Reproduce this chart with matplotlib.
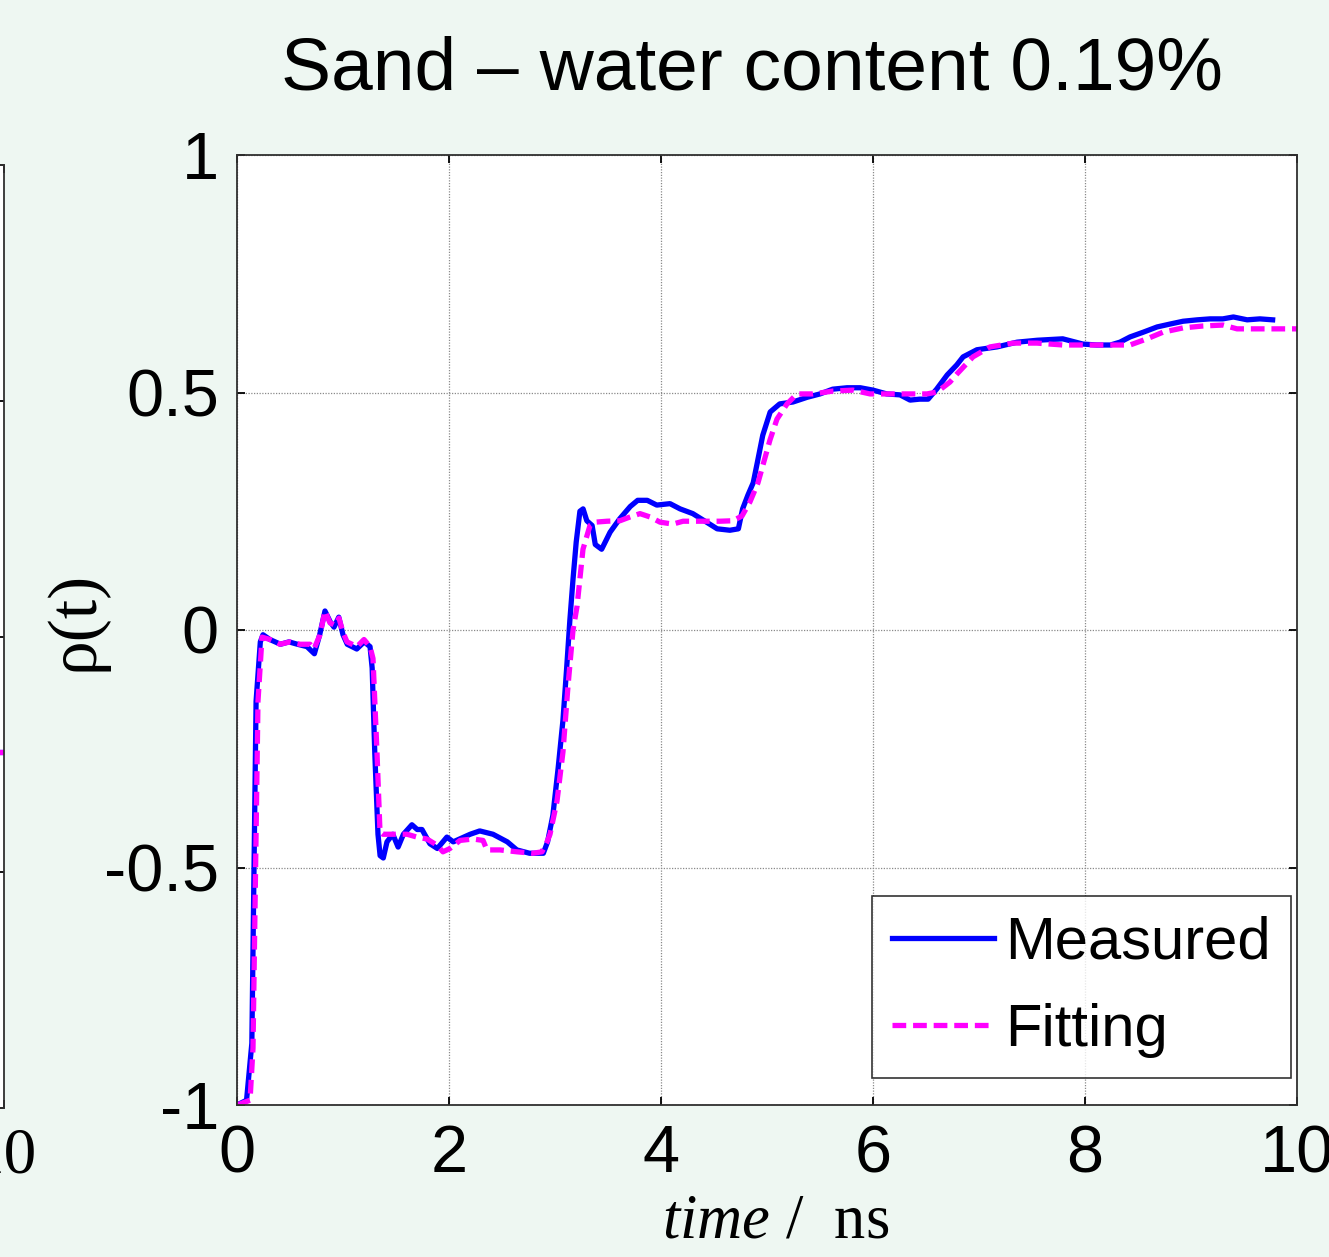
import matplotlib
matplotlib.use("Agg")
import matplotlib.pyplot as plt

# ---------------- data ----------------
t_meas = [0.0, 0.09, 0.14, 0.18, 0.22, 0.245, 0.31, 0.41, 0.49, 0.57,
          0.66, 0.73, 0.78, 0.83, 0.88, 0.915, 0.96, 1.0, 1.04, 1.13,
          1.2, 1.255, 1.275, 1.3, 1.33, 1.35, 1.38, 1.415, 1.47, 1.52,
          1.57, 1.65, 1.7, 1.745, 1.82, 1.89, 1.98, 2.04, 2.2, 2.29,
          2.415, 2.55, 2.64, 2.76, 2.89, 2.93, 2.98, 3.03, 3.075, 3.11,
          3.14, 3.17, 3.2, 3.235, 3.265, 3.3, 3.35, 3.38, 3.44, 3.52,
          3.61, 3.71, 3.78, 3.87, 3.96, 4.085, 4.18, 4.3, 4.43, 4.53,
          4.65, 4.73, 4.77, 4.82, 4.87, 4.91, 4.96, 5.03, 5.12, 5.245,
          5.38, 5.5, 5.62, 5.755, 5.88, 6.0, 6.13, 6.255, 6.35, 6.44,
          6.52, 6.6, 6.7, 6.79, 6.85, 6.98, 7.17, 7.36, 7.55, 7.79,
          7.98, 8.11, 8.24, 8.33, 8.425, 8.55, 8.68, 8.8, 8.925, 9.06,
          9.18, 9.3, 9.4, 9.53, 9.65, 9.77]
rho_meas = [-1.0, -0.99, -0.87, -0.15, -0.025, -0.01, -0.02, -0.03, -0.025, -0.03,
            -0.035, -0.05, -0.01, 0.04, 0.017, 0.006, 0.027, -0.01, -0.03, -0.04,
            -0.025, -0.035, -0.08, -0.26, -0.43, -0.475, -0.48, -0.446, -0.43, -0.457,
            -0.43, -0.41, -0.42, -0.42, -0.45, -0.46, -0.436, -0.446, -0.43, -0.423,
            -0.43, -0.446, -0.463, -0.47, -0.47, -0.446, -0.39, -0.29, -0.19, -0.08,
            0.02, 0.107, 0.185, 0.25, 0.255, 0.23, 0.22, 0.18, 0.17, 0.206,
            0.234, 0.26, 0.273, 0.273, 0.263, 0.266, 0.255, 0.245, 0.227, 0.213,
            0.21, 0.213, 0.255, 0.284, 0.31, 0.354, 0.41, 0.459, 0.476, 0.48,
            0.49, 0.497, 0.507, 0.51, 0.51, 0.505, 0.497, 0.495, 0.484, 0.486,
            0.486, 0.507, 0.537, 0.558, 0.575, 0.59, 0.596, 0.606, 0.61, 0.613,
            0.602, 0.6, 0.6, 0.606, 0.617, 0.627, 0.638, 0.644, 0.65, 0.653,
            0.655, 0.655, 0.659, 0.653, 0.655, 0.653]

t_fit = [0.0, 0.123, 0.151, 0.198, 0.236, 0.311, 0.406, 0.5, 0.594, 0.689,
         0.726, 0.783, 0.83, 0.877, 0.925, 0.962, 1.0, 1.038, 1.132, 1.198,
         1.255, 1.283, 1.321, 1.349, 1.377, 1.472, 1.604, 1.698, 1.792, 1.887,
         1.943, 2.009, 2.104, 2.226, 2.321, 2.358, 2.481, 2.642, 2.792, 2.877,
         2.925, 2.953, 3.019, 3.075, 3.123, 3.17, 3.208, 3.264, 3.33, 3.377,
         3.491, 3.613, 3.708, 3.802, 3.896, 3.991, 4.113, 4.208, 4.368, 4.557,
         4.679, 4.764, 4.84, 4.915, 5.028, 5.094, 5.189, 5.283, 5.434, 5.623,
         5.811, 5.972, 6.132, 6.321, 6.509, 6.604, 6.726, 6.792, 6.943, 7.104,
         7.321, 7.547, 7.792, 7.981, 8.236, 8.425, 8.585, 8.736, 8.925, 9.113,
         9.302, 9.434, 9.557, 10.0]
rho_fit = [-1.0, -0.99, -0.88, -0.15, -0.015, -0.02, -0.03, -0.025, -0.03, -0.03,
           -0.04, -0.01, 0.04, 0.015, 0.01, 0.025, -0.005, -0.025, -0.035, -0.02,
           -0.035, -0.06, -0.26, -0.425, -0.43, -0.43, -0.43, -0.436, -0.44, -0.453,
           -0.467, -0.46, -0.443, -0.44, -0.443, -0.463, -0.463, -0.467, -0.47, -0.467,
           -0.446, -0.43, -0.36, -0.257, -0.117, 0.0, 0.05, 0.17, 0.22, 0.227,
           0.229, 0.23, 0.238, 0.245, 0.238, 0.227, 0.223, 0.229, 0.229, 0.229,
           0.23, 0.24, 0.27, 0.31, 0.4, 0.444, 0.476, 0.497, 0.497, 0.503,
           0.505, 0.497, 0.497, 0.497, 0.497, 0.501, 0.522, 0.539, 0.575, 0.596,
           0.604, 0.604, 0.6, 0.6, 0.6, 0.6, 0.613, 0.627, 0.636, 0.64,
           0.642, 0.634, 0.634, 0.634]

# partially visible neighbouring panel (cut off at the left edge)
left_t = [9.5, 10.0]
left_meas = [-0.245, -0.245]
left_fit = [-0.245, -0.245]

x_ticks = [0, 2, 4, 6, 8, 10]
x_tick_labels = ["0", "2", "4", "6", "8", "10"]
y_ticks = [-1, -0.5, 0, 0.5, 1]
y_tick_labels = ["-1", "-0.5", "0", "0.5", "1"]

title_text = "Sand \u2013 water content 0.19%"
series_labels = ["Measured", "Fitting"]

# ---------------- style ----------------
SANS = "Liberation Sans"
SERIF = "Liberation Serif"

plt.rcParams["axes.unicode_minus"] = False
plt.rcParams["mathtext.fontset"] = "custom"
plt.rcParams["mathtext.it"] = "Liberation Serif:italic"
plt.rcParams["mathtext.rm"] = "Liberation Serif"

BG = "#eef7f2"
W, H = 1329, 1257
fig = plt.figure(figsize=(W / 100, H / 100), dpi=100, facecolor=BG)

def px_axes(l, t, r, b):
    return [l / W, 1 - b / H, (r - l) / W, (b - t) / H]

# left partial panel
axL = fig.add_axes(px_axes(-1000, 165, 4, 1108))
axL.set_facecolor("white")
axL.set_xlim(0, 10)
axL.set_ylim(-1, 1)
axL.plot(left_t, left_meas, color="#0000ff", lw=3.8)
axL.plot(left_t, left_fit, color="#ff00ff", lw=3.8, dashes=(2.6, 1.3))
axL.set_xticks([10])
axL.set_xticklabels(["10"], fontfamily=SERIF, fontsize=47)
axL.set_yticks(y_ticks)
axL.set_yticklabels([])
axL.tick_params(direction="in", length=6, width=1.3, right=True, top=True, pad=14)
for s in axL.spines.values():
    s.set_color("#303030")
    s.set_linewidth(1.3)

# main panel
ax = fig.add_axes(px_axes(237, 155, 1297, 1105))
ax.set_facecolor("white")
ax.set_xlim(0, 10)
ax.set_ylim(-1, 1)
ax.grid(True, color="#8a8a8a", linestyle=(0, (1, 1.2)), linewidth=0.9)
ax.set_axisbelow(True)

ax.plot(t_meas, rho_meas, color="#0000ff", lw=3.8, label=series_labels[0],
        solid_joinstyle="round")
ax.plot(t_fit, rho_fit, color="#ff00ff", lw=3.8, dashes=(2.6, 1.3),
        label=series_labels[1])

ax.set_xticks(x_ticks)
ax.set_xticklabels(x_tick_labels, fontfamily=SANS, fontsize=48)
ax.set_yticks(y_ticks)
ax.set_yticklabels(y_tick_labels, fontfamily=SANS, fontsize=48)
ax.tick_params(direction="in", length=6, width=1.3, right=True, top=True,
               colors="black", pad=14)
ax.tick_params(axis="y", pad=13)
for s in ax.spines.values():
    s.set_color("#303030")
    s.set_linewidth(1.3)

leg = ax.legend(loc="lower right", bbox_to_anchor=(0.9943, 0.0284),
                frameon=True, fancybox=False,
                prop={"family": SANS, "size": 43},
                handlelength=1.7, handletextpad=0.2, labelspacing=0.55,
                borderpad=0.33, borderaxespad=0)
leg.get_frame().set_edgecolor("black")
leg.get_frame().set_linewidth(1.2)

fig.text(752 / W, 1 - 70 / H, title_text, ha="center", va="center",
         fontfamily=SANS, fontsize=54)

fig.text(776 / W, 1 - 1222 / H, r"$\mathit{time}$ /  ns", ha="center", va="center",
         fontfamily=SERIF, fontsize=45)
fig.text(76 / W, 1 - 621 / H, "\u03c1(t)", ha="center", va="center", rotation=90,
         fontfamily=SERIF, fontsize=50)

fig.savefig("out.png", dpi=100, facecolor=BG)
